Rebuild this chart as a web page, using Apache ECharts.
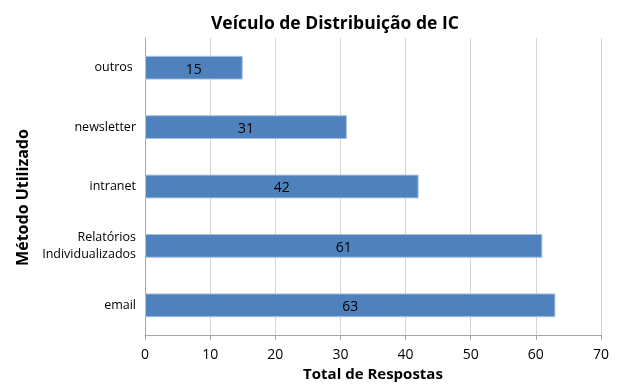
<!DOCTYPE html>
<html><head><meta charset="utf-8">
<script src="https://cdn.jsdelivr.net/npm/echarts@6/dist/echarts.min.js"></script>
<style>html,body{margin:0;padding:0;background:#fff}#c{width:631px;height:391px}</style>
</head><body><div id="c"></div>
<script>
const categories = ["email", "Relatórios\nIndividualizados", "intranet", "newsletter", "outros "];
const values = [63, 61, 42, 31, 15];
const xTicks = [0, 10, 20, 30, 40, 50, 60, 70];
const titleText = "Veículo de Distribuição de IC";
const xName = "Total de Respostas";
const yName = "Método Utilizado";

const chart = echarts.init(document.getElementById('c'));
const FONT = "'Open Sans', 'Noto Sans', sans-serif";
chart.setOption({
  animation: false,
  textStyle: {fontFamily: FONT},
  title: {text: titleText, left: 206, top: 10,
    textStyle: {fontSize: 17.5, fontWeight: 'bold', color: '#000', fontFamily: FONT}},
  grid: {left: 145, right: 30, top: 38, bottom: 56, containLabel: false},
  xAxis: {type: 'value', min: xTicks[0], max: xTicks[xTicks.length-1], interval: 10,
    name: xName, nameLocation: 'middle', nameGap: 30,
    nameTextStyle: {fontSize: 15, fontWeight: 'bold', color: '#000', fontFamily: FONT},
    axisLine: {show: true, lineStyle: {color: '#a6a6a6'}},
    axisTick: {show: true, length: 5, lineStyle: {color: '#a6a6a6'}},
    axisLabel: {fontSize: 14, color: '#000', margin: 13, fontFamily: FONT},
    splitLine: {show: true, lineStyle: {color: '#d4d4d4', width: 1}}},
  yAxis: {type: 'category', data: categories,
    name: yName, nameLocation: 'middle', nameGap: 114, nameRotate: 90,
    nameTextStyle: {fontSize: 16, fontWeight: 'bold', color: '#000', fontFamily: FONT, padding: [0, 22, 0, 0]},
    axisLine: {show: true, lineStyle: {color: '#a6a6a6'}},
    axisTick: {show: false},
    axisLabel: {fontSize: 12.5, color: '#000', margin: 9, lineHeight: 17, fontFamily: FONT}},
  series: [{type: 'bar', data: values, barWidth: '40%',
    itemStyle: {color: '#4F81BD', borderColor: '#a9c1e0', borderWidth: 1},
    label: {show: true, position: 'inside', color: '#000', fontSize: 14, offset: [0, 2], fontFamily: FONT}}]
});
</script></body></html>
